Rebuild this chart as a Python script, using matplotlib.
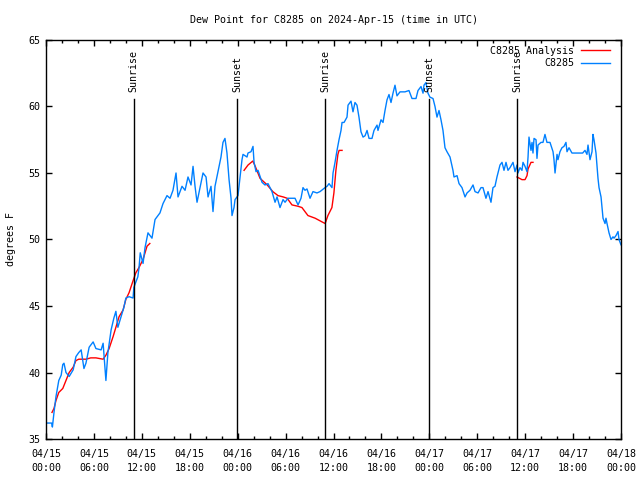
import matplotlib
matplotlib.use("Agg")
import matplotlib.pyplot as plt
import matplotlib.dates as mdates
import pandas as pd

# station observations: hours since 2024-04-15 00:00 UTC, dew point (F)
obs_hours = [0.0, 0.7, 0.8, 1.0, 1.25, 1.6, 1.9, 2.1, 2.25, 2.5, 2.9, 3.4, 3.75, 4.1, 4.4,
             4.75, 5.0, 5.4, 5.9, 6.25, 6.9, 7.15, 7.5, 7.75, 8.15, 8.5, 8.75, 9.0, 9.4,
             9.75, 10.0, 10.4, 10.9, 11.0, 11.5, 11.65, 11.8, 12.15, 12.4, 12.77, 13.27,
             13.65, 13.9, 14.27, 14.65, 15.15, 15.53, 15.9, 16.28, 16.53, 17.03, 17.41,
             17.78, 18.16, 18.41, 18.66, 18.91, 19.28, 19.66, 20.04, 20.29, 20.66, 20.91,
             21.16, 21.54, 21.91, 22.16, 22.41, 22.66, 22.92, 23.17, 23.29, 23.54, 23.67,
             24.04, 24.54, 24.67, 25.17, 25.29, 25.67, 25.92, 26.05, 26.3, 26.55, 27.05,
             27.42, 27.8, 28.3, 28.68, 28.93, 29.3, 29.68, 29.93, 30.3, 30.68, 31.18,
             31.56, 31.93, 32.18, 32.43, 32.68, 33.06, 33.43, 33.93, 34.31, 34.94, 35.19,
             35.44, 35.81, 35.94, 36.19, 36.44, 36.69, 36.94, 37.07, 37.32, 37.69, 37.82,
             38.19, 38.44, 38.69, 38.94, 39.19, 39.44, 39.7, 39.95, 40.2, 40.45, 40.82,
             41.07, 41.45, 41.57, 41.95, 42.2, 42.45, 42.7, 42.95, 43.2, 43.45, 43.7,
             43.95, 44.33, 44.95, 45.45, 45.83, 46.33, 46.58, 46.96, 47.21, 47.33, 47.58,
             47.83, 48.08, 48.46, 48.71, 48.96, 49.21, 49.46, 49.71, 49.96, 50.21, 50.59,
             50.96, 51.09, 51.47, 51.72, 52.09, 52.47, 52.72, 53.09, 53.47, 53.72, 54.1,
             54.47, 54.72, 55.09, 55.35, 55.72, 55.97, 56.22, 56.47, 56.85, 57.1, 57.35,
             57.6, 57.85, 58.1, 58.48, 58.73, 58.98, 59.1, 59.35, 59.6, 59.73, 59.98,
             60.23, 60.36, 60.48, 60.73, 60.86, 60.98, 61.11, 61.36, 61.48, 61.61, 61.98,
             62.23, 62.48, 62.73, 63.11, 63.49, 63.61, 63.74, 63.99, 64.11, 64.36, 64.61,
             64.86, 65.11, 65.24, 65.49, 65.86, 67.2, 67.49, 67.74, 67.87, 68.12, 68.37,
             68.49, 68.62, 68.87, 69.0, 69.12, 69.25, 69.5, 69.62, 69.75, 70.0, 70.12,
             70.25, 70.5, 70.75, 71.0, 71.13, 71.38, 71.63, 71.75, 72.0]
obs_dewpt = [36.2, 36.2, 35.9, 37.0, 38.2, 39.4, 39.8, 40.6, 40.7, 40.0, 39.7, 40.2, 41.2, 41.5, 41.7,
             40.3, 40.7, 41.9, 42.3, 41.8, 41.7, 42.2, 39.4, 41.5, 43.2, 44.1, 44.6, 43.4, 44.2,
             44.9, 45.6, 45.7, 45.6, 46.4, 47.2, 47.9, 49.0, 48.2, 49.4, 50.5, 50.1,
             51.5, 51.7, 52.0, 52.7, 53.3, 53.1, 53.7, 55.0, 53.2, 54.0, 53.7,
             54.7, 54.1, 55.5, 54.0, 52.8, 53.9, 55.0, 54.7, 53.2, 54.0, 52.1,
             54.0, 55.1, 56.2, 57.3, 57.6, 56.5, 54.5, 53.1, 51.8, 52.4, 53.0,
             53.3, 56.0, 56.4, 56.2, 56.5, 56.6, 57.0, 55.8, 55.1, 55.2, 54.3,
             54.1, 54.2, 53.6, 52.8, 53.2, 52.4, 53.0, 52.8, 53.1, 53.1, 53.1,
             52.6, 53.1, 53.9, 53.7, 53.8, 53.1, 53.6, 53.5, 53.6, 53.9, 54.0,
             54.2, 53.9, 55.0, 55.8, 56.7, 57.5, 58.2, 58.8, 58.8, 59.2, 60.1,
             60.4, 59.6, 60.3, 60.1, 59.2, 58.1, 57.7, 57.8, 58.2, 57.6, 57.6,
             58.2, 58.6, 58.2, 59.0, 58.8, 59.7, 60.5, 60.9, 60.3, 61.0, 61.6,
             60.8, 61.1, 61.1, 61.2, 60.6, 60.6, 61.2, 61.5, 61.0, 61.6, 61.8,
             61.0, 60.7, 60.6, 60.0, 59.2, 59.7, 59.0, 58.2, 56.9, 56.6, 56.2,
             55.2, 54.7, 54.8, 54.2, 53.9, 53.2, 53.5, 53.7, 54.1, 53.6, 53.5,
             53.9, 53.9, 53.1, 53.6, 52.8, 53.9, 54.0, 54.7, 55.6, 55.8, 55.2,
             55.8, 55.2, 55.4, 55.8, 55.1, 55.6, 55.0, 55.4, 55.2, 55.8, 55.5,
             55.1, 56.2, 57.7, 56.7, 57.3, 56.5, 57.6, 57.5, 56.1, 57.1, 57.3,
             57.3, 57.9, 57.3, 57.3, 56.6, 56.0, 55.0, 56.4, 56.0, 56.6, 56.9,
             57.0, 57.3, 56.6, 56.9, 56.5, 56.5, 56.7, 56.4, 57.1, 56.0, 56.6,
             57.9, 57.5, 56.5, 55.5, 54.6, 53.9, 53.2, 52.4, 51.6, 51.2, 51.6,
             51.2, 50.5, 50.0, 50.2, 50.1, 50.3, 50.6, 50.0, 49.6]

# analysis, three separate pieces
ana1_hours = [0.75, 1.0, 1.25, 1.6, 2.1, 2.5, 2.9, 3.4, 3.75, 4.1, 5.0, 5.6, 6.25, 7.15, 7.5,
              7.9, 8.4, 8.75, 9.15, 9.65, 10.0, 10.4, 10.9, 11.25, 11.65, 12.15, 12.4, 12.65, 13.0]
ana1_dewpt = [37.0, 37.3, 37.9, 38.5, 38.8, 39.4, 40.0, 40.4, 40.9, 41.0, 41.0, 41.1, 41.1, 41.0, 41.3,
              41.8, 42.7, 43.4, 44.2, 44.7, 45.5, 46.0, 46.9, 47.5, 47.9, 48.5, 49.0, 49.5, 49.7]
ana2_hours = [24.8, 25.3, 25.9, 26.2, 26.8, 27.7, 28.4, 29.05, 29.7, 30.2, 30.8, 31.55, 32.05,
              32.8, 33.7, 34.95, 35.3, 35.8, 36.05, 36.3, 36.55, 36.7, 37.07]
ana2_dewpt = [55.2, 55.6, 55.9, 55.5, 54.6, 54.1, 53.6, 53.3, 53.2, 53.1, 52.6, 52.5, 52.4,
              51.8, 51.6, 51.2, 51.8, 52.4, 53.5, 55.2, 56.4, 56.7, 56.7]
ana3_hours = [58.98, 59.6, 59.98, 60.23, 60.36, 60.73, 60.98]
ana3_dewpt = [54.7, 54.5, 54.5, 54.8, 55.3, 55.8, 55.8]

sun_events = ["2024-04-15 11:00", "2024-04-15 23:54", "2024-04-16 10:58",
              "2024-04-16 23:58", "2024-04-17 10:59"]
sun_labels = ["Sunrise", "Sunset", "Sunrise", "Sunset", "Sunrise"]

t0 = pd.Timestamp("2024-04-15 00:00")


def to_time(hours):
    return t0 + pd.to_timedelta(hours, unit="h")


plt.rcParams["font.family"] = ["DejaVu Sans Mono"]
plt.rcParams["font.size"] = 7.2

fig = plt.figure(figsize=(6.4, 4.8), dpi=100)
ax = fig.add_axes([0.0719, 0.0854, 0.8984, 0.8313])

red = "#ff0000"
blue = "#0080ff"
ax.plot(to_time(ana1_hours), ana1_dewpt, color=red, lw=1.0, label="C8285 Analysis")
ax.plot(to_time(ana2_hours), ana2_dewpt, color=red, lw=1.0)
ax.plot(to_time(ana3_hours), ana3_dewpt, color=red, lw=1.0)
ax.plot(to_time(obs_hours), obs_dewpt, color=blue, lw=1.0, label="C8285")

for ev, lab in zip(sun_events, sun_labels):
    t = pd.Timestamp(ev)
    ax.axvline(t, ymin=0, ymax=0.852, color="black", lw=1.0)
    ax.text(t, 0.870, lab, transform=ax.get_xaxis_transform(), rotation=90,
            ha="center", va="bottom")

ax.set_xlim(t0, t0 + pd.Timedelta(hours=72))
ax.set_ylim(35, 65)
ax.set_yticks(range(35, 66, 5))
ax.xaxis.set_major_locator(mdates.HourLocator(byhour=range(0, 24, 6)))
ax.xaxis.set_minor_locator(mdates.HourLocator(byhour=range(0, 24, 2)))
ax.xaxis.set_major_formatter(mdates.DateFormatter("%m/%d\n%H:%M"))
ax.tick_params(which="both", direction="in", top=True, right=True, width=1.0)
ax.tick_params(which="major", length=4.5, pad=4)
ax.tick_params(axis="x", which="major", pad=7)
ax.tick_params(which="minor", length=2.5)
for lbl in ax.get_xticklabels():
    lbl.set_linespacing(1.55)
for sp in ax.spines.values():
    sp.set_linewidth(1.0)

ax.set_title("Dew Point for C8285 on 2024-Apr-15 (time in UTC)", fontsize=7.2, pad=12)
ax.set_ylabel("degrees F", labelpad=9)

ax.legend(loc="upper right", bbox_to_anchor=(1 - 11 / 575, 1 - 6 / 399), frameon=False,
          markerfirst=False, borderaxespad=0, borderpad=0, handlelength=2.9,
          handletextpad=0.7, labelspacing=0.22)

fig.savefig("out.png", dpi=100)
